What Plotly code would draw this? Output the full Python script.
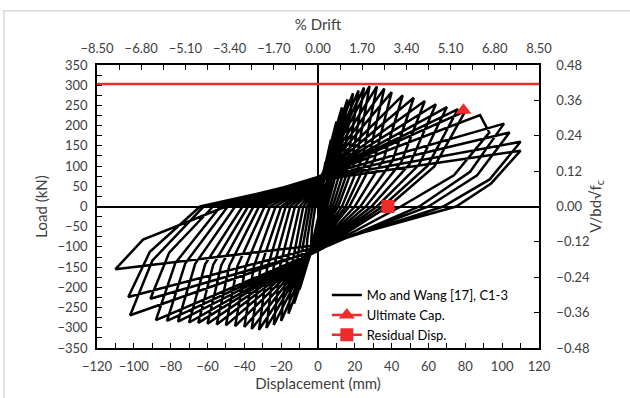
import plotly.graph_objects as go

# ---------------- data ----------------
# positive half-cycles
pos_pinch_load = [0, 20, 30, 40, 45, 50, 55, 58, 60, 62, 64, 66, 68, 70, 70, 72, 72, 73, 73, 73, 73, 70, 68, 65]
pos_amp_disp = [4, 7, 10, 13, 16, 19, 22, 25, 28, 32, 36, 40, 46, 52, 58, 64, 70, 76, 80, 93, 101, 104, 110, 110]
pos_amp_load = [110, 165, 210, 245, 265, 280, 287, 294, 298, 297, 292, 283, 275, 269, 261, 253, 246, 241, 236, 183, 205, 183, 160, 138]
pos_knee_disp = [2.8, 5, 7.2, 9.4, 11.6, 14, 16.4, 18.8, 21.2, 24.4, 27.6, 30.8, 35.6, 40.4, 45.2, 50, 54.8, 59.6, 63.2, 73.8, 82.6, 86.4, 93.2, 94]
pos_knee_load = [46, 69, 88, 103, 111, 118, 121, 123, 125, 125, 123, 119, 116, 113, 110, 106, 103, 101, 99, 77, 86, 77, 67, 57]
pos_zero_disp = [1, 2, 3, 4, 5, 6.5, 8, 9.5, 11, 13, 15, 17, 20, 23, 26, 29, 32, 35, 38, 45, 55, 60, 68, 75]
# extra peak reached before the drop in cycle 20
drop_cycle = 19
drop_peak_disp = 88
drop_peak_load = 226

# negative half-cycles
neg_pinch_load = [-30, -45, -55, -62, -68, -72, -76, -80, -84, -88, -92, -95, -98, -100, -102, -104, -106, -108, -110, -110, -108, -105, -100, -95]
neg_amp_disp = [-4, -7, -10, -13, -16, -20, -24, -28, -32, -36, -40, -45, -50, -55, -60, -65, -70, -76, -82, -88, -91, -102, -103, -110]
neg_amp_load = [-110, -160, -205, -240, -265, -283, -293, -300, -305, -303, -298, -296, -294, -292, -290, -288, -287, -285, -283, -281, -228, -269, -224, -155]
neg_knee_disp = [-3.25, -5.8, -8.35, -10.9, -13.6, -17, -20.5, -24.1, -27.6, -31.2, -34.9, -39.3, -43.7, -48.1, -52.5, -56.9, -61.3, -66.7, -72.1, -77.5, -80.8, -90, -91.3, -95]
neg_knee_load = [-55, -80, -102, -120, -132, -141, -146, -150, -152, -151, -149, -148, -147, -146, -145, -144, -143, -142, -141, -140, -114, -134, -112, -82]
neg_zero_disp = [-1.5, -3, -4.5, -6, -8, -10, -12.5, -15, -17.5, -20, -23, -26, -29, -32, -35, -38, -41, -45, -49, -53, -57, -62, -64, -50]
final_pinch_load = 60

ultimate_disp = [79]
ultimate_load = [238]
residual_disp = [38]
residual_load = [0]
limit_disp = [-120, 120]
limit_load = [303, 303]

drift_range = [-8.5, 8.5]
ratio_range = [-0.48, 0.48]

# ---------------- build hysteresis path ----------------
hx, hy = [], []
for i in range(len(pos_amp_disp)):
    hx.append(0); hy.append(pos_pinch_load[i])
    if i == drop_cycle:
        hx.append(drop_peak_disp); hy.append(drop_peak_load)
    hx += [pos_amp_disp[i], pos_knee_disp[i], pos_zero_disp[i], 0]
    hy += [pos_amp_load[i], pos_knee_load[i], 0, neg_pinch_load[i]]
    hx += [neg_amp_disp[i], neg_knee_disp[i], neg_zero_disp[i]]
    hy += [neg_amp_load[i], neg_knee_load[i], 0]
hx.append(0); hy.append(final_pinch_load)

RED = "#EE2B2B"
FONT = "Lato"
TXT = "#404040"

fig = go.Figure()
fig.add_trace(go.Scatter(x=limit_disp, y=limit_load, mode="lines",
                         line=dict(color=RED, width=2.5), showlegend=False, hoverinfo="skip"))
fig.add_trace(go.Scatter(x=hx, y=hy, mode="lines", name="Mo and Wang [17], C1-3",
                         line=dict(color="black", width=2.5)))
fig.add_trace(go.Scatter(x=ultimate_disp, y=ultimate_load, mode="lines+markers", name="Ultimate Cap.",
                         line=dict(color=RED, width=2.5),
                         marker=dict(symbol="triangle-up", size=14, color=RED)))
fig.add_trace(go.Scatter(x=residual_disp, y=residual_load, mode="lines+markers", name="Residual Disp.",
                         line=dict(color=RED, width=2.5),
                         marker=dict(symbol="square", size=13, color=RED)))
fig.add_trace(go.Scatter(x=drift_range, y=ratio_range, xaxis="x2", yaxis="y2", mode="markers",
                         marker=dict(opacity=0), showlegend=False, hoverinfo="skip"))

tickfont = dict(family=FONT, size=13, color=TXT)
axis_common = dict(showgrid=False, showline=True, linecolor="black", linewidth=1.5,
                   ticks="inside", tickcolor="black", ticklen=5, tickwidth=1.2,
                   tickfont=tickfont)
title_font = dict(family=FONT, size=15, color=TXT)

fig.update_layout(
    width=630, height=398,
    margin=dict(l=97, r=91, t=65, b=46),
    paper_bgcolor="white", plot_bgcolor="white",
    font=dict(family=FONT, color=TXT),
    xaxis=dict(range=[-120, 120], dtick=20, tick0=0, zeroline=True, zerolinecolor="black",
               zerolinewidth=2, ticklabelstandoff=6,
               minor=dict(ticks="inside", dtick=10, ticklen=5, tickcolor="black"),
               title=dict(text="Displacement (mm)", font=title_font, standoff=1),
               **axis_common),
    xaxis2=dict(range=[-8.5, 8.5], dtick=1.7, tick0=0, tickformat=".2f", overlaying="x", side="top",
                anchor="y", zeroline=False, ticklabelstandoff=5,
                minor=dict(ticks="inside", dtick=0.85, ticklen=5, tickcolor="black"),
                title=dict(text="% Drift", font=title_font, standoff=6),
                **axis_common),
    yaxis=dict(range=[-350, 350], dtick=50, tick0=0, zeroline=True, zerolinecolor="black",
               zerolinewidth=2, ticklabelstandoff=5,
               minor=dict(ticks="inside", dtick=25, ticklen=5, tickcolor="black"),
               title=dict(text="Load (kN)", font=title_font, standoff=6),
               **axis_common),
    yaxis2=dict(range=[-0.48, 0.48], dtick=0.12, tick0=0, tickformat=".2f", overlaying="y",
                side="right", anchor="x", zeroline=False, ticklabelstandoff=13,
                title=dict(text="V/bd√f<sub>c</sub>", font=title_font, standoff=1),
                **axis_common),
    legend=dict(x=0.52, y=0.24, xanchor="left", yanchor="top", bgcolor="rgba(255,255,255,0)",
                font=dict(family=FONT, size=13, color="black"), tracegroupgap=0, itemwidth=30),
    shapes=[dict(type="rect", xref="paper", yref="paper", x0=-0.2104, x1=2, y0=-1, y1=1.1916,
                 line=dict(color="#D9D9D9", width=1.5), fillcolor="rgba(0,0,0,0)", layer="below")],
    showlegend=True,
)

fig.write_html("out.html")
